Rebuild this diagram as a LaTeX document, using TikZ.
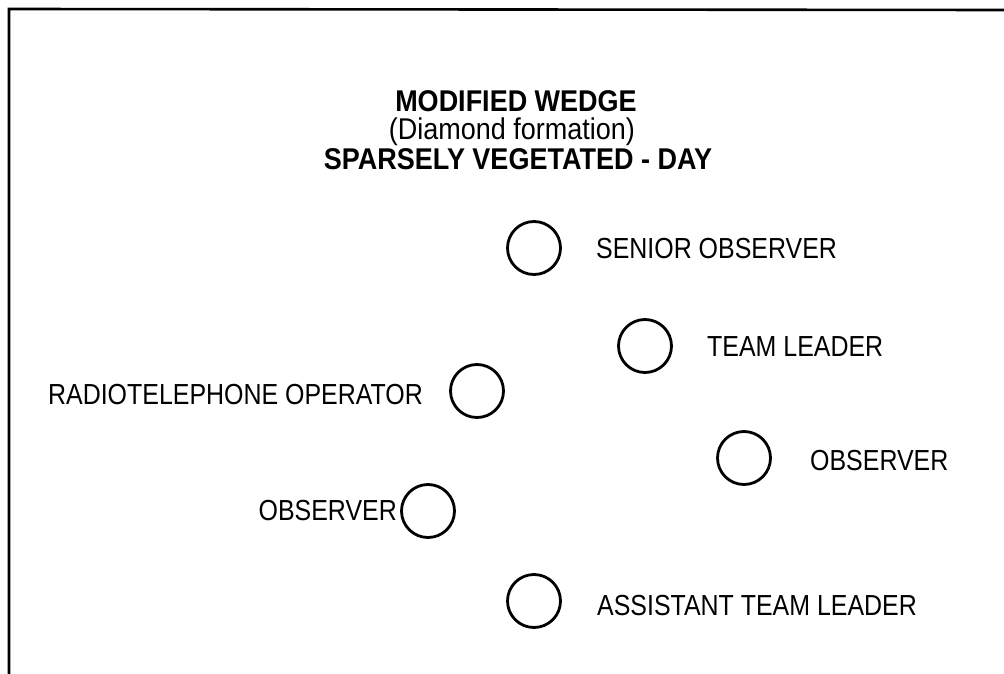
\documentclass[tikz,border=0pt]{standalone}
\usepackage{fontspec}
\setmainfont{Liberation Sans}
\newfontfamily\labfont[FakeStretch=0.86]{Liberation Sans}
\newfontfamily\ttlfont[FakeStretch=0.9]{Liberation Sans}
\begin{document}
\begin{tikzpicture}[x=1pt,y=-1pt,
  member/.style={draw=black,circle,line width=2.8pt,minimum size=53pt,inner sep=0pt},
  lbl/.style={inner sep=0pt,font=\labfont\fontsize{29}{32}\selectfont},
  ttl/.style={inner sep=0pt,anchor=base,font=\ttlfont\fontsize{30}{32}\selectfont}]
\useasboundingbox (0,0) rectangle (1004,674);
% frame
\coordinate (tl) at (9,9);
\coordinate (tr) at (1004,10);
\coordinate (bl) at (9,674);
\draw[line width=2.6pt] (tr) -- (tl) -- (bl);
% title
\node[ttl] (t1) at (516,112) {\bfseries MODIFIED WEDGE};
\node[ttl] (t2) at (512,140) {(Diamond formation)};
\node[ttl] (t3) at (518,169) {\bfseries SPARSELY VEGETATED - DAY};
% members
\node[member] (so) at (534,248) {};
\node[member] (tlr) at (645,346) {};
\node[member] (rto) at (477,391) {};
\node[member] (obr) at (744,458) {};
\node[member] (obl) at (428,511) {};
\node[member] (atl) at (534,601) {};
% labels
\node[lbl,anchor=base west] (lso) at (596,258) {SENIOR OBSERVER};
\node[lbl,anchor=base west] (ltl) at (707,356) {TEAM LEADER};
\node[lbl,anchor=base east] (lrto) at (423,404) {RADIOTELEPHONE OPERATOR};
\node[lbl,anchor=base west] (lobr) at (810,470) {OBSERVER};
\node[lbl,anchor=base east] (lobl) at (397,520) {OBSERVER};
\node[lbl,anchor=base west] (latl) at (597,615) {ASSISTANT TEAM LEADER};
\end{tikzpicture}
\end{document}
